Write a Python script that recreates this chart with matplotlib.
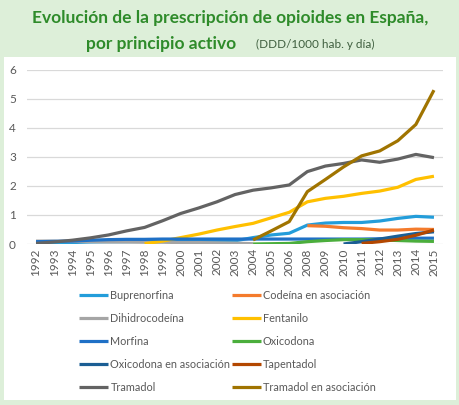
import numpy as np
import matplotlib
matplotlib.use("Agg")
import matplotlib.pyplot as plt
from matplotlib.patches import Rectangle

nan = np.nan
years = ['1992', '1993', '1994', '1995', '1996', '1997', '1998', '1999', '2000',
         '2001', '2002', '2003', '2004', '2005', '2006', '2008', '2009', '2010',
         '2011', '2012', '2013', '2014', '2015']

buprenorfina = [0.03, 0.04, 0.05, 0.07, 0.08, 0.08, 0.09, 0.09, 0.1, 0.1, 0.1, 0.11,
                0.22, 0.31, 0.37, 0.65, 0.72, 0.74, 0.74, 0.79, 0.88, 0.95, 0.92]
codeina_asoc = [nan] * 15 + [0.63, 0.61, 0.56, 0.53, 0.48, 0.48, 0.51, 0.5]
dihidrocodeina = [0.1, 0.1, 0.09, 0.08, 0.07, 0.07, 0.06, 0.06, 0.05, 0.05, 0.04, 0.03,
                  0.01] + [nan] * 10
fentanilo = [nan] * 6 + [0.01, 0.1, 0.22, 0.34, 0.48, 0.6, 0.71, 0.9, 1.09,
                         1.45, 1.57, 1.64, 1.74, 1.82, 1.95, 2.22, 2.33]
morfina = [0.08, 0.09, 0.1, 0.13, 0.15, 0.16, 0.16, 0.17, 0.17, 0.17, 0.17, 0.17,
           0.17, 0.17, 0.17, 0.17, 0.17, 0.17, 0.17, 0.18, 0.19, 0.2, 0.2]
oxicodona = [nan] * 12 + [0.0, 0.01, 0.02, 0.08, 0.12, 0.15, 0.15, 0.14, 0.12, 0.1, 0.09]
oxicodona_asoc = [nan] * 17 + [0.0, 0.08, 0.17, 0.27, 0.36, 0.42]
tapentadol = [nan] * 18 + [0.02, 0.08, 0.16, 0.3, 0.48]
tramadol = [0.02, 0.07, 0.13, 0.21, 0.31, 0.45, 0.57, 0.8, 1.05, 1.24, 1.45, 1.7,
            1.85, 1.93, 2.03, 2.49, 2.68, 2.77, 2.89, 2.81, 2.92, 3.08, 2.97]
tramadol_asoc = [nan] * 12 + [0.14, 0.45, 0.77, 1.8, 2.22, 2.65, 3.03, 3.2, 3.55, 4.11, 5.29]

names = ['Buprenorfina', 'Codeína en asociación', 'Dihidrocodeína', 'Fentanilo',
         'Morfina', 'Oxicodona', 'Oxicodona en asociación', 'Tapentadol',
         'Tramadol', 'Tramadol en asociación']
series = [buprenorfina, codeina_asoc, dihidrocodeina, fentanilo, morfina, oxicodona,
          oxicodona_asoc, tapentadol, tramadol, tramadol_asoc]
colors = ['#239DDA', '#F47B2C', '#A5A5A5', '#FFC000', '#1F70C6', '#4BAE3C',
          '#1B5E94', '#B34700', '#636363', '#A07400']

plt.rcParams['font.family'] = ['Lato', 'DejaVu Sans']

fig = plt.figure(figsize=(4.6, 4.05), dpi=100)
fig.patch.set_facecolor('#DDEFD9')
panel = Rectangle((4 / 460, 5 / 405), 452 / 460, 343 / 405,
                  transform=fig.transFigure, facecolor='white', edgecolor='none',
                  zorder=-5)
fig.patches.append(panel)

fig.text(0.5, 1 - 18 / 405, 'Evolución de la prescripción de opioides en España,',
         ha='center', va='center', fontsize=12.5, fontweight='bold', color='#2E8B2A')
fig.text(0.513, 1 - 44 / 405, 'por principio activo', ha='right', va='center',
         fontsize=12.5, fontweight='bold', color='#2E8B2A')
fig.text(0.556, 1 - 44 / 405, '(DDD/1000 hab. y día)', ha='left', va='center',
         fontsize=8.5, color='#3F5F3F')

ax = fig.add_axes([27 / 460, 1 - 244 / 405, 416 / 460, 174.5 / 405], zorder=2)
x = np.arange(len(years))
handles = []
for vals, name, c in zip(series, names, colors):
    h, = ax.plot(x, vals, color=c, lw=2.3, label=name, solid_capstyle='butt')
    handles.append(h)

ax.set_xlim(-0.5, len(years) - 0.5)
ax.set_ylim(0, 6)
ax.set_yticks(range(0, 7))
ax.set_xticks(x)
ax.set_xticklabels(years, rotation=90, fontsize=8.5, color='#595959')
ax.tick_params(axis='y', labelsize=8.5, labelcolor='#595959', length=0, pad=8)
ax.tick_params(axis='x', length=0, pad=3)
ax.grid(axis='y', color='#D9D9D9', lw=0.9)
ax.set_axisbelow(True)
for s in ax.spines.values():
    s.set_visible(False)
ax.set_facecolor('none')

order = [0, 2, 4, 6, 8, 1, 3, 5, 7, 9]
leg = fig.legend([handles[i] for i in order], [names[i] for i in order],
                 ncol=2, loc='upper left', bbox_to_anchor=(79 / 460, 1 - 290 / 405),
                 frameon=False, fontsize=7.8, handlelength=2.7, handletextpad=0.2,
                 columnspacing=0.1, labelspacing=1.1, borderaxespad=0, borderpad=0)
for t in leg.get_texts():
    t.set_color('#595959')

fig.savefig('out.png', dpi=100, facecolor=fig.get_facecolor())
